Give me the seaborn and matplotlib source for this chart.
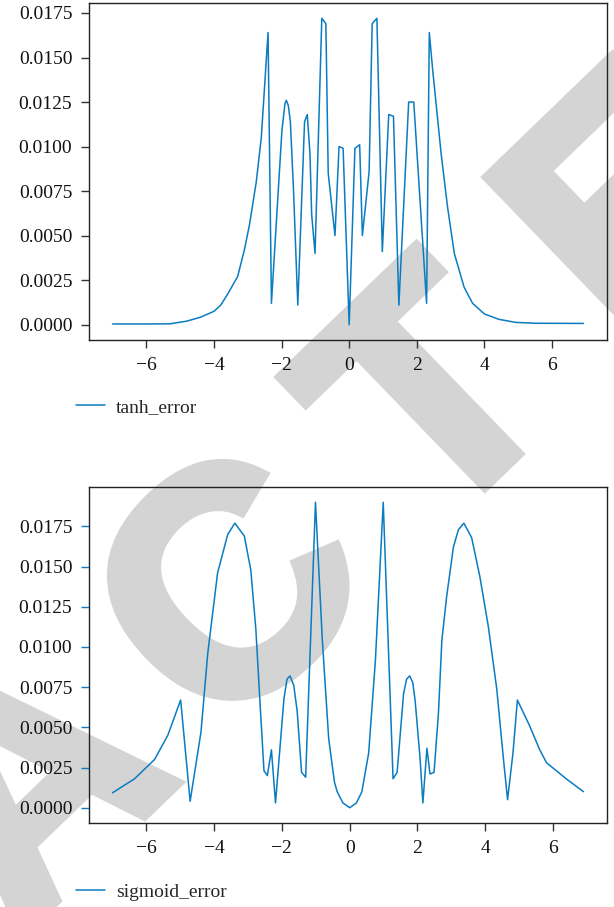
import math
import matplotlib
matplotlib.use('Agg')
import matplotlib.pyplot as plt
import matplotlib.patheffects as pe
import seaborn as sns
from matplotlib.ticker import MultipleLocator, FormatStrFormatter

# values
tanh_x = [-7.0, -6.0, -5.3, -4.8, -4.4, -4.0, -3.8, -3.6, -3.3, -3.1, -2.95, -2.75, -2.6, -2.4,
          -2.3, -1.99, -1.9, -1.86, -1.8, -1.74, -1.65, -1.52, -1.32, -1.24, -1.16, -1.11, -1.01,
          -0.81, -0.69, -0.62, -0.42, -0.30, -0.18, 0.0, 0.17, 0.31, 0.39, 0.59, 0.68, 0.82, 0.98,
          1.17, 1.31, 1.47, 1.76, 1.91, 2.29, 2.37, 2.47, 2.72, 2.91, 3.11, 3.40, 3.65, 4.0, 4.43,
          4.92, 5.5, 6.93]
tanh_err = [0.00004, 0.00004, 0.00005, 0.0002, 0.00042, 0.00075, 0.0011, 0.0017, 0.0027, 0.0042,
            0.0056, 0.0080, 0.0105, 0.0164, 0.0012, 0.0109, 0.0124, 0.0126, 0.0123, 0.0114,
            0.0077, 0.0011, 0.0114, 0.0118, 0.0096, 0.0062, 0.0040, 0.0172, 0.0169, 0.0085,
            0.0050, 0.0100, 0.0099, 0.0, 0.0099, 0.0101, 0.0050, 0.0086, 0.0169, 0.0172, 0.0041,
            0.0118, 0.0117, 0.0011, 0.0125, 0.0125, 0.0012, 0.0164, 0.0143, 0.0096, 0.0066,
            0.0040, 0.0021, 0.0012, 0.0006, 0.0003, 0.00013, 0.00008, 0.00007]

sig_x = [-7.0, -6.35, -5.76, -5.37, -4.99, -4.71, -4.39, -4.19, -3.90, -3.60, -3.39, -3.11, -2.92,
         -2.77, -2.63, -2.53, -2.43, -2.31, -2.19, -1.94, -1.85, -1.76, -1.65, -1.55, -1.42, -1.30,
         -1.01, -0.81, -0.62, -0.45, -0.37, -0.2, 0.0, 0.2, 0.36, 0.56, 0.76, 0.99, 1.28, 1.40,
         1.59, 1.68, 1.77, 1.86, 1.93, 2.08, 2.16, 2.28, 2.37, 2.49, 2.62, 2.72, 2.86, 3.06, 3.21,
         3.37, 3.60, 3.84, 4.09, 4.34, 4.54, 4.66, 4.82, 4.95, 5.31, 5.61, 5.81, 6.39, 6.90]
sig_err = [0.00093, 0.0018, 0.0030, 0.0045, 0.0067, 0.0004, 0.0047, 0.0096, 0.0146, 0.0170,
           0.0177, 0.0169, 0.0148, 0.0111, 0.0059, 0.0023, 0.0020, 0.0036, 0.0003, 0.0068,
           0.0080, 0.0082, 0.0076, 0.0060, 0.0022, 0.0019, 0.0190, 0.0105, 0.0043, 0.0016,
           0.0010, 0.0003, 0.0, 0.0003, 0.0010, 0.0034, 0.0092, 0.0190, 0.0018, 0.0022, 0.0071,
           0.0080, 0.0082, 0.0078, 0.0067, 0.0030, 0.0003, 0.0037, 0.0021, 0.0022, 0.0059,
           0.0104, 0.0131, 0.0162, 0.0173, 0.0177, 0.0168, 0.0144, 0.0113, 0.0074, 0.0030,
           0.0005, 0.0034, 0.0067, 0.0051, 0.0036, 0.0028, 0.0018, 0.0010]

x_ticks = [-6, -4, -2, 0, 2, 4, 6]
wm_word = 'RETRACTED'

sns.set_style('ticks')
plt.rcParams['font.family'] = ['Liberation Serif', 'DejaVu Serif']
plt.rcParams['font.size'] = 14

line_col = '#0a7cc1'
wm_col = '#d4d4d4'
W, H = 614, 907

fig = plt.figure(figsize=(6.14, 9.07), dpi=100)

# watermark letters behind everything (only A C T E land inside the figure)
ang = math.radians(44)
step = 279
for i, ch in enumerate(wm_word):
    k = i - 5  # the 'C' sits at (215, 575) px
    cx = 215 + k * step * math.cos(ang) + 28
    cy = 575 - k * step * math.sin(ang) + 29
    if -250 < cx < W + 250 and -250 < cy < H + 250:
        fig.text(cx / W, 1 - cy / H, ch, rotation=44, rotation_mode='anchor',
                 ha='center', va='center', fontsize=230, fontweight='bold',
                 family='Liberation Sans', color=wm_col, zorder=-1,
                 path_effects=[pe.withStroke(linewidth=8, foreground=wm_col,
                                             joinstyle='miter')])

ax1 = fig.add_axes([89 / W, 1 - 340 / H, 518 / W, 337 / H])
ax2 = fig.add_axes([89 / W, 1 - 823 / H, 518 / W, 336 / H])


def draw(ax, x, y, name, legend_y, ytick_col):
    ax.patch.set_alpha(0)
    sns.lineplot(x=x, y=y, ax=ax, color=line_col, lw=1.1, label=name)
    ax.set_xticks(x_ticks)
    ax.yaxis.set_major_locator(MultipleLocator(0.0025))
    ax.yaxis.set_major_formatter(FormatStrFormatter('%.4f'))
    for s in ax.spines.values():
        s.set_visible(True)
        s.set_color('#222222')
        s.set_linewidth(1.0)
    ax.tick_params(direction='out', length=6, width=1, pad=6, labelsize=14,
                   color='#333333', labelcolor='#111111')
    ax.tick_params(axis='y', color=ytick_col)
    ax.set_xlabel('')
    ax.set_ylabel('')
    ax.legend(loc='center left', bbox_to_anchor=(76 / W, 1 - legend_y / H),
              bbox_transform=fig.transFigure, frameon=False, borderpad=0,
              borderaxespad=0, handlelength=1.5, handletextpad=0.55, fontsize=14)


draw(ax1, tanh_x, tanh_err, 'tanh_error', 407, '#333333')
draw(ax2, sig_x, sig_err, 'sigmoid_error', 892, line_col)

fig.savefig('out.png', dpi=100)
